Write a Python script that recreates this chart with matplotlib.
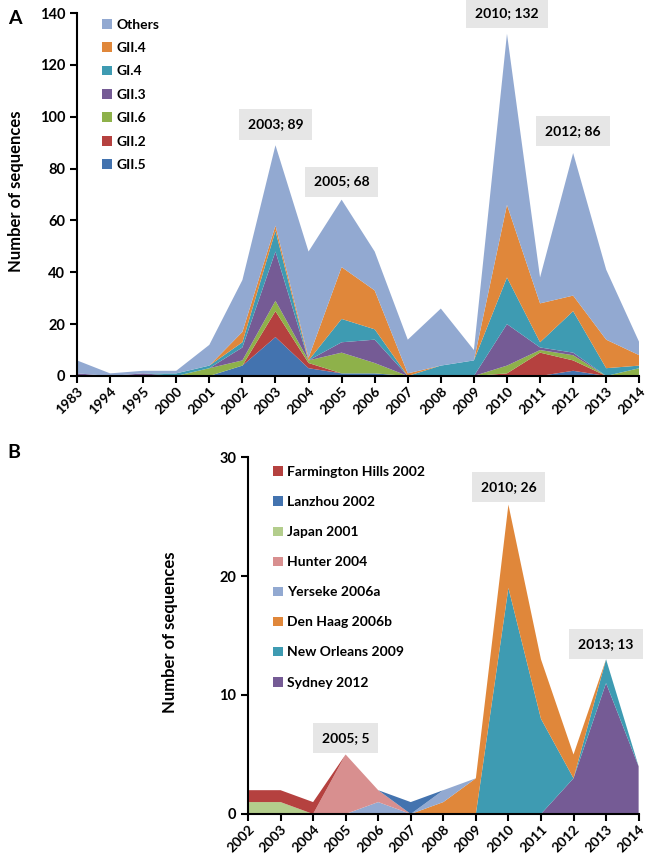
import matplotlib
matplotlib.use('Agg')
import matplotlib.pyplot as plt
import numpy as np

plt.rcParams['font.family'] = ['Lato', 'DejaVu Sans']
plt.rcParams['font.weight'] = 'bold'

# panel A data
years_a = ['1983', '1994', '1995', '2000', '2001', '2002', '2003', '2004', '2005',
           '2006', '2007', '2008', '2009', '2010', '2011', '2012', '2013', '2014']
gii5 = [0, 0, 0, 0, 0, 4, 15, 3, 1, 1, 0, 0, 0, 0, 0, 2, 0, 0]
gii2 = [0, 0, 0, 0, 0, 0, 10, 2, 0, 0, 0, 0, 0, 1, 9, 4, 0, 0]
gii6 = [0, 0, 0, 0, 3, 2, 4, 1, 8, 4, 0, 0, 0, 3, 1, 2, 0, 3]
gii3 = [1, 0, 1, 0, 0, 5, 19, 0, 4, 9, 0, 0, 0, 16, 1, 1, 0, 0]
gi4 = [0, 0, 0, 1, 1, 2, 8, 0, 9, 4, 0, 4, 6, 18, 2, 16, 3, 1]
gii4 = [0, 0, 0, 0, 0, 4, 2, 1, 20, 15, 1, 0, 0, 28, 15, 6, 11, 4]
others = [5, 1, 1, 1, 8, 20, 31, 41, 26, 15, 13, 22, 4, 66, 10, 55, 27, 5]
labels_a = ['GII.5', 'GII.2', 'GII.6', 'GII.3', 'GI.4', 'GII.4', 'Others']
colors_a = ['#4373AF', '#B5413F', '#8EB14A', '#755B95', '#3E9BB2', '#E0873A', '#92A9D1']
peaks_a = [('2003', 89), ('2005', 68), ('2010', 132), ('2012', 86)]

# panel B data
years_b = ['2002', '2003', '2004', '2005', '2006', '2007', '2008',
           '2009', '2010', '2011', '2012', '2013', '2014']
sydney = [0, 0, 0, 0, 0, 0, 0, 0, 0, 0, 3, 11, 4]
new_orleans = [0, 0, 0, 0, 0, 0, 0, 0, 19, 8, 0, 2, 0]
den_haag = [0, 0, 0, 0, 0, 0, 1, 3, 7, 5, 2, 0, 0]
yerseke = [0, 0, 0, 0, 1, 0, 1, 0, 0, 0, 0, 0, 0]
hunter = [0, 0, 0, 5, 1, 0, 0, 0, 0, 0, 0, 0, 0]
japan = [1, 1, 0, 0, 0, 0, 0, 0, 0, 0, 0, 0, 0]
lanzhou = [0, 0, 0, 0, 0, 1, 0, 0, 0, 0, 0, 0, 0]
farmington = [1, 1, 1, 0, 0, 0, 0, 0, 0, 0, 0, 0, 0]
labels_b = ['Sydney 2012', 'New Orleans 2009', 'Den Haag 2006b', 'Yerseke 2006a',
            'Hunter 2004', 'Japan 2001', 'Lanzhou 2002', 'Farmington Hills 2002']
colors_b = ['#755B95', '#3E9BB2', '#E0873A', '#92A9D1',
            '#D88F8F', '#B3CD8C', '#4373AF', '#B5413F']
peaks_b = [('2005', 5), ('2010', 26), ('2013', 13)]

fig = plt.figure(figsize=(6.5, 8.57), dpi=100)


def style_axis(ax, years):
    for s in ['top', 'right']:
        ax.spines[s].set_visible(False)
    for s in ['left', 'bottom']:
        ax.spines[s].set_linewidth(1.5)
    ax.set_xticks(range(len(years)))
    ax.set_xticklabels(years, rotation=45, ha='right', rotation_mode='anchor', fontsize=10)
    ax.tick_params(axis='both', width=1.5, length=5)
    ax.tick_params(axis='x', pad=1.5)
    ax.tick_params(axis='y', labelsize=10.5)
    ax.set_xlim(0, len(years) - 1)
    ax.set_ylabel('Number of sequences', fontsize=12, fontweight='bold')


def box(ax, x, y, txt):
    ax.text(x, y, txt, ha='center', va='center', fontsize=10, fontweight='bold',
            bbox=dict(facecolor='#E6E6E6', edgecolor='none', boxstyle='square,pad=0.65'))


# ---- A ----
axA = fig.add_axes([0.1185, 0.5613, 0.865, 0.4235])
xa = np.arange(len(years_a))
axA.stackplot(xa, gii5, gii2, gii6, gii3, gi4, gii4, others,
              colors=colors_a, labels=labels_a, linewidth=0)
axA.set_ylim(0, 140)
axA.set_yticks(range(0, 141, 20))
style_axis(axA, years_a)
axA.yaxis.set_label_coords(-0.095, 0.51)
h, l = axA.get_legend_handles_labels()
axA.legend(h[::-1], l[::-1], loc='upper left', bbox_to_anchor=(0.035, 1.0), frameon=False,
           fontsize=10, handlelength=0.7, handleheight=0.7, handletextpad=0.3,
           labelspacing=0.82, borderaxespad=0)
# peak label positions (y in data units, above the peaks)
pos_a = {'2003': 97, '2005': 75, '2010': 140, '2012': 94.5}
for yr, v in peaks_a:
    box(axA, years_a.index(yr), pos_a[yr], f'{yr}; {v}')
fig.text(0.012, 0.978, 'A', fontsize=14, fontweight='bold', ha='left', va='center')

# ---- B ----
axB = fig.add_axes([0.3815, 0.0502, 0.601, 0.4165])
xb = np.arange(len(years_b))
axB.stackplot(xb, sydney, new_orleans, den_haag, yerseke, hunter, japan, lanzhou, farmington,
              colors=colors_b, labels=labels_b, linewidth=0)
axB.set_ylim(0, 30)
axB.set_yticks([0, 10, 20, 30])
style_axis(axB, years_b)
axB.yaxis.set_label_coords(-0.18, 0.51)
h, l = axB.get_legend_handles_labels()
axB.legend(h[::-1], l[::-1], loc='upper left', bbox_to_anchor=(0.05, 0.99), frameon=False,
           fontsize=10, handlelength=0.7, handleheight=0.7, handletextpad=0.3,
           labelspacing=1.3, borderaxespad=0)
pos_b = {'2005': 6.4, '2010': 27.5, '2013': 14.3}
for yr, v in peaks_b:
    box(axB, years_b.index(yr), pos_b[yr], f'{yr}; {v}')
fig.text(0.012, 0.472, 'B', fontsize=14, fontweight='bold', ha='left', va='center')

fig.savefig('out.png', dpi=100)
